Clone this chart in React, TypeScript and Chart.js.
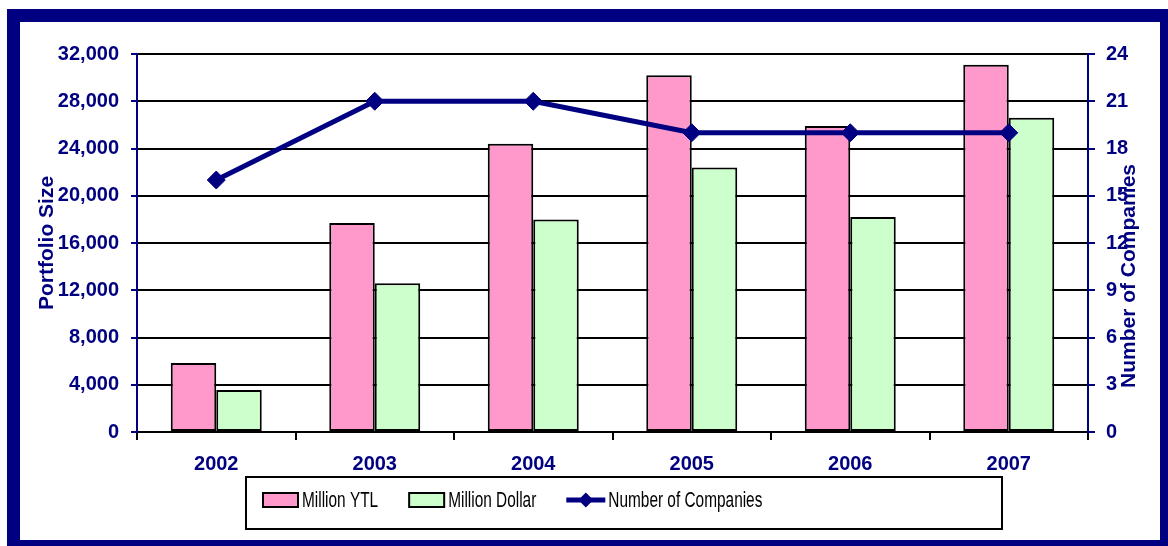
import React, { useEffect, useRef } from 'react';
import { Chart, registerables } from 'chart.js';

Chart.register(...registerables);

const YEARS = ['2002', '2003', '2004', '2005', '2006', '2007'];
const MILLION_YTL = [5850, 17700, 24400, 30200, 25900, 31100];
const MILLION_DOLLAR = [3550, 12600, 18000, 22400, 18200, 26600];
const COMPANIES = [16, 21, 21, 19, 19, 19];

const SERIES_LABELS = ['Million YTL', 'Million Dollar', 'Number of Companies'];
const LEFT_TITLE = 'Portfolio Size';
const RIGHT_TITLE = 'Number of Companies';
const LEFT_MIN = 0;
const LEFT_MAX = 32000;
const LEFT_STEP = 4000;
const RIGHT_MIN = 0;
const RIGHT_MAX = 24;
const RIGHT_STEP = 3;

const NAVY = '#000080';
const PINK = '#FF99CC';
const GREEN = '#CCFFCC';
const FONT = '"Liberation Sans", Arial, sans-serif';

const axisTitlePlugin = {
  id: 'axisTitles',
  afterDraw(chart: any) {
    const { ctx, chartArea } = chart;
    const cy = (chartArea.top + chartArea.bottom) / 2;
    ctx.save();
    ctx.font = `bold 21px ${FONT}`;
    ctx.fillStyle = NAVY;
    ctx.textAlign = 'center';
    ctx.textBaseline = 'middle';
    ctx.save();
    ctx.translate(chartArea.left - 90, cy);
    ctx.rotate(-Math.PI / 2);
    ctx.fillText(LEFT_TITLE, 0, 0);
    ctx.restore();
    ctx.save();
    ctx.translate(chartArea.right + 41, cy + 33);
    ctx.rotate(-Math.PI / 2);
    ctx.fillText(RIGHT_TITLE, 0, 0);
    ctx.restore();
    ctx.restore();
  },
};

const boxLegendPlugin = {
  id: 'boxLegend',
  afterDraw(chart: any) {
    const { ctx } = chart;
    const boxX = 245, boxY = 476, boxW = 758, boxH = 54;
    const rowY = 500;
    ctx.save();
    ctx.lineWidth = 2;
    ctx.strokeStyle = '#000';
    ctx.strokeRect(boxX + 1, boxY + 1, boxW - 2, boxH - 2);
    let x = 262;
    const squeeze = 0.7;
    chart.data.datasets.forEach((ds: any) => {
      if (ds.type === 'line') {
        ctx.strokeStyle = ds.borderColor;
        ctx.lineWidth = 5;
        ctx.beginPath();
        ctx.moveTo(x, rowY);
        ctx.lineTo(x + 39, rowY);
        ctx.stroke();
        const r = 7.5;
        const cx = x + 19.5;
        ctx.fillStyle = ds.pointBackgroundColor;
        ctx.beginPath();
        ctx.moveTo(cx - r, rowY);
        ctx.lineTo(cx, rowY - r);
        ctx.lineTo(cx + r, rowY);
        ctx.lineTo(cx, rowY + r);
        ctx.closePath();
        ctx.fill();
        x += 42;
      } else {
        ctx.fillStyle = ds.backgroundColor;
        ctx.fillRect(x, rowY - 8, 37, 16);
        ctx.strokeStyle = '#000';
        ctx.lineWidth = 2;
        ctx.strokeRect(x + 1, rowY - 7, 35, 14);
        x += 40;
      }
      ctx.save();
      ctx.font = `22px ${FONT}`;
      ctx.fillStyle = '#000';
      ctx.textAlign = 'left';
      ctx.textBaseline = 'middle';
      ctx.translate(x, rowY + 1);
      ctx.scale(squeeze, 1);
      ctx.fillText(ds.label, 0, 0);
      const w = ctx.measureText(ds.label).width * squeeze;
      ctx.restore();
      x += w + 30;
    });
    ctx.restore();
  },
};

export default function App() {
  const canvasRef = useRef<HTMLCanvasElement | null>(null);

  useEffect(() => {
    if (!canvasRef.current) return;
    const tickFont = { family: FONT, size: 20, weight: 'bold' as const };
    const chart = new Chart(canvasRef.current, {
      type: 'bar',
      data: {
        labels: YEARS,
        datasets: [
          {
            type: 'bar',
            label: SERIES_LABELS[0],
            data: MILLION_YTL,
            backgroundColor: PINK,
            borderColor: '#000',
            borderWidth: 2,
            borderSkipped: false,
            categoryPercentage: 0.574,
            barPercentage: 1.0,
            yAxisID: 'y',
            order: 1,
          },
          {
            type: 'bar',
            label: SERIES_LABELS[1],
            data: MILLION_DOLLAR,
            backgroundColor: GREEN,
            borderColor: '#000',
            borderWidth: 2,
            borderSkipped: false,
            categoryPercentage: 0.574,
            barPercentage: 1.0,
            yAxisID: 'y',
            order: 1,
          },
          {
            type: 'line',
            label: SERIES_LABELS[2],
            data: COMPANIES,
            borderColor: NAVY,
            borderWidth: 5,
            backgroundColor: NAVY,
            pointStyle: 'rectRot',
            pointRadius: 9,
            pointBackgroundColor: NAVY,
            pointBorderColor: NAVY,
            pointBorderWidth: 1,
            tension: 0,
            fill: false,
            yAxisID: 'y1',
            order: 0,
          },
        ] as any,
      },
      options: {
        responsive: false,
        animation: false,
        layout: { padding: { left: 0, right: 0, top: 54, bottom: 74 } },
        plugins: {
          legend: { display: false },
          tooltip: { enabled: false },
        },
        scales: {
          x: {
            offset: true,
            grid: {
              offset: true,
              drawOnChartArea: false,
              color: '#000',
              lineWidth: 2,
              tickLength: 8,
            },
            border: { color: '#000', width: 2 },
            ticks: { color: NAVY, font: tickFont, padding: 12, maxRotation: 0 },
            afterFit: (s: any) => { s.height = 40; },
          },
          y: {
            position: 'left',
            min: LEFT_MIN,
            max: LEFT_MAX,
            grid: { color: '#000', lineWidth: 2, tickColor: NAVY, tickLength: 6 },
            border: { color: NAVY, width: 2 },
            ticks: {
              stepSize: LEFT_STEP,
              color: NAVY,
              font: tickFont,
              padding: 12,
              callback: (v: any) => Number(v).toLocaleString('en-US'),
            },
            afterFit: (s: any) => { s.width = 137; },
          },
          y1: {
            position: 'right',
            min: RIGHT_MIN,
            max: RIGHT_MAX,
            grid: { drawOnChartArea: false, color: NAVY, lineWidth: 2, tickColor: NAVY, tickLength: 7 },
            border: { color: NAVY, width: 2 },
            ticks: { stepSize: RIGHT_STEP, color: NAVY, font: tickFont, padding: 11 },
            afterFit: (s: any) => { s.width = 80; },
          },
        },
      } as any,
      plugins: [axisTitlePlugin, boxLegendPlugin],
    });
    return () => chart.destroy();
  }, []);

  return (
    <div style={{ position: 'fixed', left: 0, top: 0, width: 1168, height: 546, background: '#fff', overflow: 'hidden' }}>
      <div
        style={{
          position: 'absolute',
          left: 7,
          top: 9,
          width: 1140,
          height: 518,
          border: `13px solid ${NAVY}`,
          background: '#fff',
        }}
      />
      <canvas
        ref={canvasRef}
        width={1168}
        height={546}
        style={{ position: 'absolute', left: 0, top: 0 }}
      />
    </div>
  );
}
